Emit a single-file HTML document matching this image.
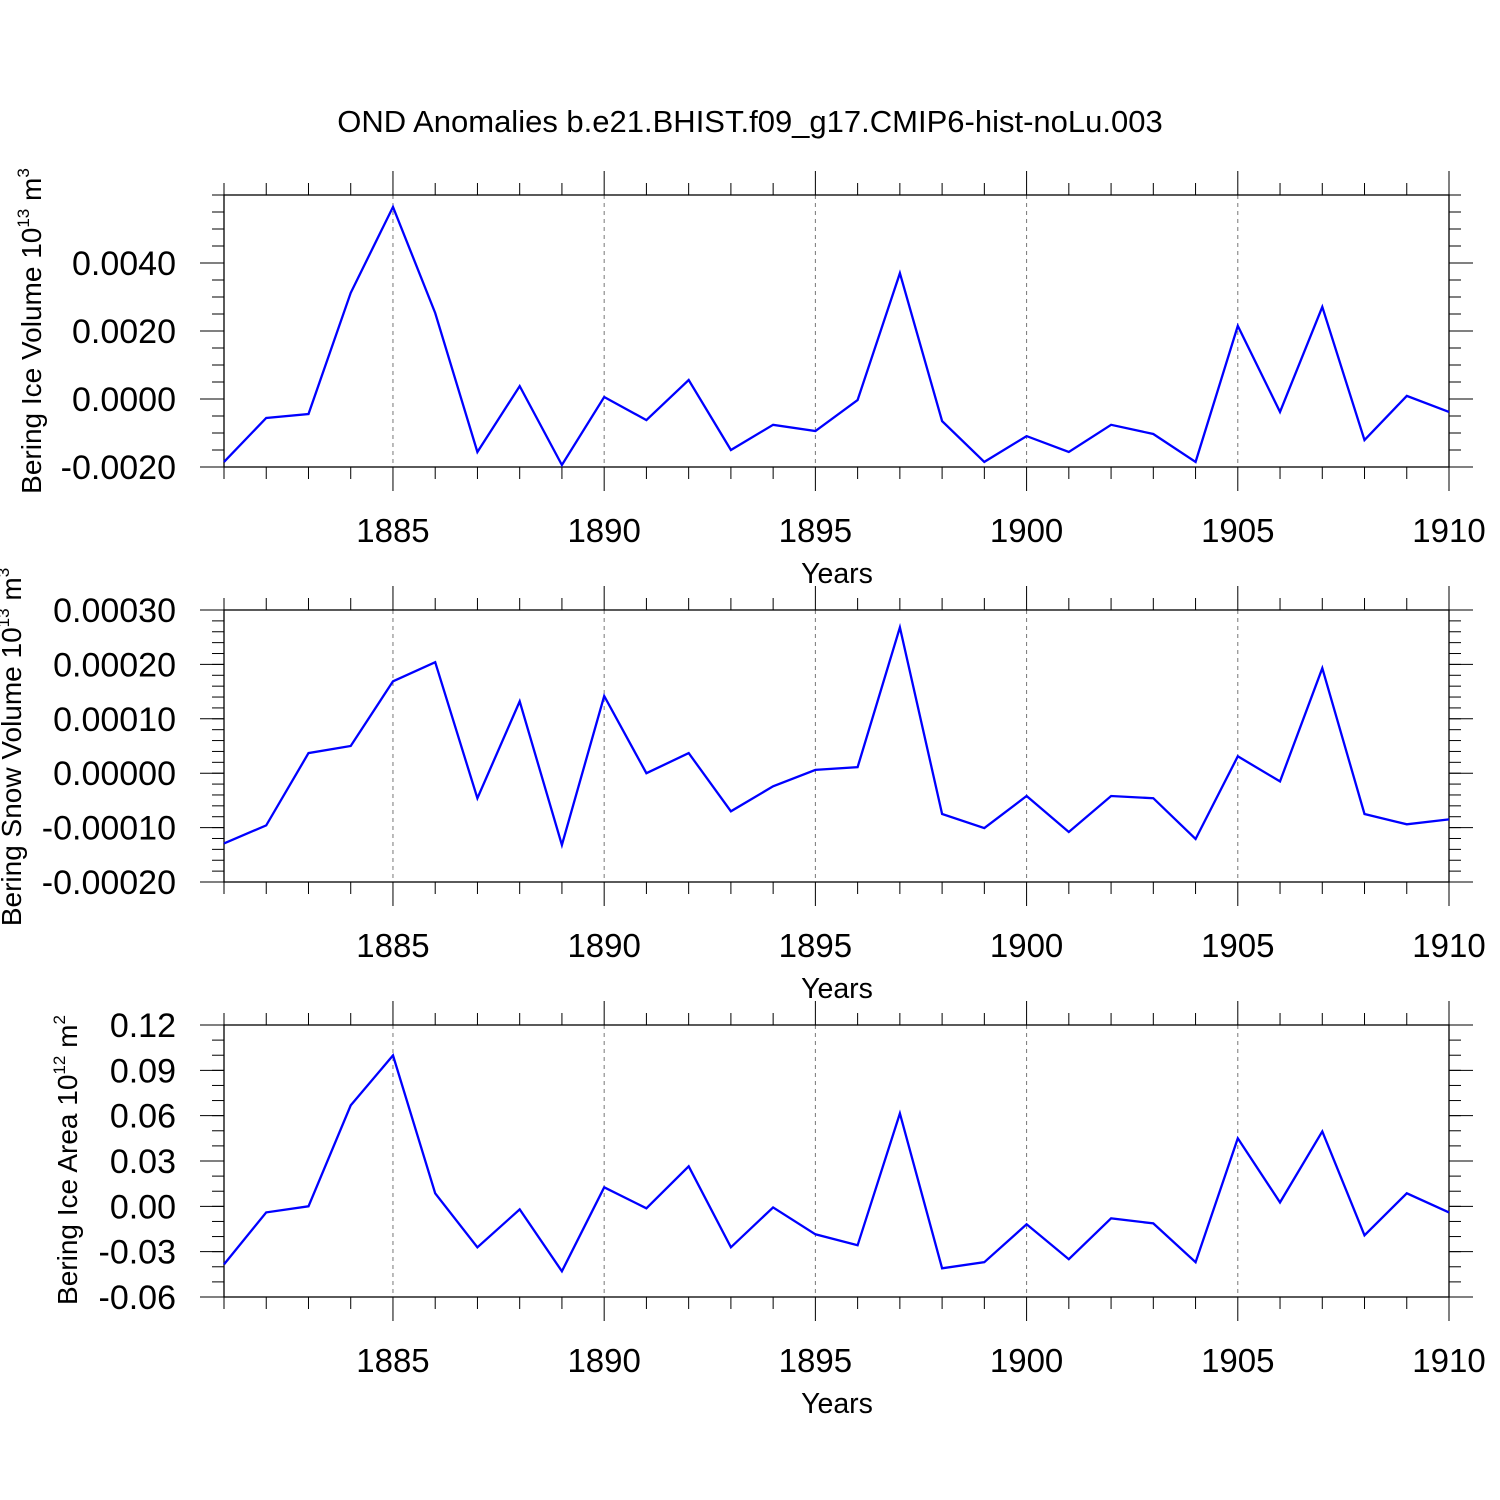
<!DOCTYPE html>
<html><head><meta charset="utf-8"><style>
html,body{margin:0;padding:0;background:#fff;}
svg{display:block;font-family:"Liberation Sans",sans-serif;}
</style></head><body>
<svg id="chart" width="1500" height="1500" viewBox="0 0 1500 1500">
<text x="750" y="132" font-size="31" text-anchor="middle">OND Anomalies b.e21.BHIST.f09_g17.CMIP6-hist-noLu.003</text>
</svg>
<script>
const years = [1881,1882,1883,1884,1885,1886,1887,1888,1889,1890,1891,1892,1893,1894,1895,1896,1897,1898,1899,1900,1901,1902,1903,1904,1905,1906,1907,1908,1909,1910];
const iceVolume = [-0.00185,-0.00056,-0.00044,0.00312,0.00565,0.00253,-0.00156,0.00038,-0.00194,0.00006,-0.00062,0.00056,-0.0015,-0.00076,-0.00094,-0.00003,0.0037,-0.00065,-0.00185,-0.00109,-0.00156,-0.00076,-0.00103,-0.00185,0.00215,-0.00038,0.00271,-0.00121,0.00009,-0.00038];
const snowVolume = [-0.000129,-0.000096,0.000037,0.00005,0.000169,0.000204,-0.000046,0.000132,-0.000132,0.000142,0,0.000037,-0.00007,-0.000024,0.000006,0.000011,0.000268,-0.000075,-0.000101,-0.000042,-0.000108,-0.000042,-0.000046,-0.000121,0.000031,-0.000015,0.000193,-0.000075,-0.000094,-0.000085];
const iceArea = [-0.0384,-0.004,0.0,0.0668,0.0999,0.0086,-0.0271,-0.002,-0.043,0.0126,-0.0013,0.0265,-0.0271,-0.0007,-0.0185,-0.0258,0.0615,-0.041,-0.037,-0.0119,-0.035,-0.0079,-0.0113,-0.037,0.045,0.0026,0.0496,-0.0192,0.0086,-0.004];
const xTickYears = [1885,1890,1895,1900,1905,1910];
const iceVolTicks = [-0.002,0,0.002,0.004];
const iceVolLabels = ["-0.0020","0.0000","0.0020","0.0040"];
const snowTicks = [-0.0002,-0.0001,0,0.0001,0.0002,0.0003];
const snowLabels = ["-0.00020","-0.00010","0.00000","0.00010","0.00020","0.00030"];
const areaTicks = [-0.06,-0.03,0,0.03,0.06,0.09,0.12];
const areaLabels = ["-0.06","-0.03","0.00","0.03","0.06","0.09","0.12"];

const svg = document.getElementById('chart');
const NS = 'http://www.w3.org/2000/svg';
const L = 224, R = 1449;
function xs(y){ return L + (y-1881)/(1910-1881)*(R-L); }
function mk(tag, attrs, parent){ const e=document.createElementNS(NS,tag); for(const k in attrs) e.setAttribute(k,attrs[k]); (parent||svg).appendChild(e); return e; }

function panel(name, top, bottom, ymin, ymax, ticks, labels, minorStep, data, titleParts, titleX, titleY){
  const g = mk('g',{});
  
  
  const ys = v => bottom - (v-ymin)/(ymax-ymin)*(bottom-top);
  xTickYears.forEach(y=>{ if(y<1910){ const l=mk('line',{x1:xs(y),x2:xs(y),y1:top,y2:bottom,stroke:'#777','stroke-width':1,'stroke-dasharray':'4,4'},g);
    
     }});
  const fr = mk('rect',{x:L,y:top,width:R-L,height:bottom-top,fill:'none',stroke:'#000','stroke-width':1.3},g);
  
  
  years.forEach(y=>{
    const major = xTickYears.includes(y);
    const len = major?24:12;
    mk('line',{x1:xs(y),x2:xs(y),y1:top-len,y2:top,stroke:'#000','stroke-width':1},g);
    mk('line',{x1:xs(y),x2:xs(y),y1:bottom,y2:bottom+len,stroke:'#000','stroke-width':1},g);
  });
  xTickYears.forEach(y=>{
    const t=mk('text',{x:xs(y),y:bottom+75,'font-size':33,'text-anchor':'middle'},g);
    t.textContent=y;
    
    
  });
  const xt=mk('text',{x:837,y:bottom+116,'font-size':28.5,'text-anchor':'middle'},g);
  xt.textContent='Years';
  
  
  const n = Math.round((ymax-ymin)/minorStep);
  for(let i=0;i<=n;i++){ const v=ymin+i*minorStep, yy=ys(v);
    mk('line',{x1:L-12,x2:L,y1:yy,y2:yy,stroke:'#000','stroke-width':1},g);
    mk('line',{x1:R,x2:R+12,y1:yy,y2:yy,stroke:'#000','stroke-width':1},g); }
  ticks.forEach((v,i)=>{ const yy=ys(v);
    mk('line',{x1:L-24,x2:L,y1:yy,y2:yy,stroke:'#000','stroke-width':1},g);
    mk('line',{x1:R,x2:R+24,y1:yy,y2:yy,stroke:'#000','stroke-width':1},g);
    const t=mk('text',{x:176,y:yy+12,'font-size':34,'text-anchor':'end'},g);
    t.textContent=labels[i];
    
    
  });
  const yt=mk('text',{x:0,y:0,'font-size':28,'text-anchor':'middle',transform:`translate(${titleX},${titleY}) rotate(-90)`},g);
  
  
  const a=document.createElementNS(NS,'tspan'); a.textContent=titleParts[0]; yt.appendChild(a);
  const b=document.createElementNS(NS,'tspan'); b.setAttribute('dy','-12'); b.setAttribute('font-size','17'); b.textContent=titleParts[1]; yt.appendChild(b);
  const c=document.createElementNS(NS,'tspan'); c.setAttribute('dy','12'); c.textContent=' m'; yt.appendChild(c);
  const d=document.createElementNS(NS,'tspan'); d.setAttribute('dy','-12'); d.setAttribute('font-size','17'); d.textContent=titleParts[2]; yt.appendChild(d);
  const pts = data.map((v,i)=>xs(years[i]).toFixed(1)+','+ys(v).toFixed(1)).join(' ');
  const pl=mk('polyline',{points:pts,fill:'none',stroke:'#0000ff','stroke-width':2.3,'stroke-linejoin':'miter'},g);
  
  
}
panel('ice-volume',195,467,-0.002,0.006,iceVolTicks,iceVolLabels,0.0005,iceVolume,['Bering Ice Volume 10','13','3'],41,331);
panel('snow-volume',610,882,-0.0002,0.0003,snowTicks,snowLabels,0.00002,snowVolume,['Bering Snow Volume 10','13','3'],21,747);
panel('ice-area',1025,1297,-0.06,0.12,areaTicks,areaLabels,0.01,iceArea,['Bering Ice Area 10','12','2'],77,1160);
</script>
</body></html>
